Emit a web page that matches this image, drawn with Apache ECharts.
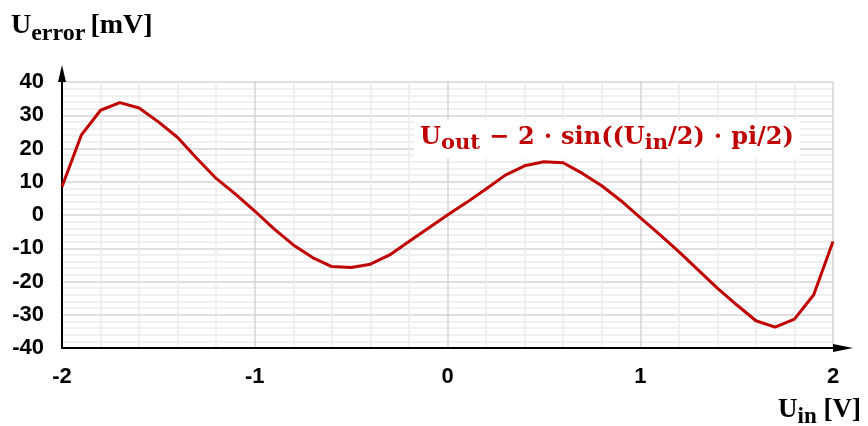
<!DOCTYPE html>
<html>
<head>
<meta charset="utf-8">
<script src="https://cdn.jsdelivr.net/npm/echarts@6/dist/echarts.min.js"></script>
<style>
  html, body { margin: 0; padding: 0; background: #fff; }
  #chart { width: 868px; height: 426px; }
</style>
</head>
<body>
<div id="chart"></div>
<script>
// Input voltage sweep (V)
const uIn = [
  -2.0, -1.9, -1.8, -1.7, -1.6, -1.5, -1.4, -1.3, -1.2, -1.1,
  -1.0, -0.9, -0.8, -0.7, -0.6, -0.5, -0.4, -0.3, -0.2, -0.1,
   0.0,  0.1,  0.2,  0.3,  0.4,  0.5,  0.6,  0.7,  0.8,  0.9,
   1.0,  1.1,  1.2,  1.3,  1.4,  1.5,  1.6,  1.7,  1.8,  1.9, 2.0
];
// Error of the output against the ideal sine transfer (mV)
const uError = [
   8.5, 24.0, 31.5, 33.8, 32.2, 28.0, 23.3, 17.0, 11.0,  6.3,
   1.2, -4.2, -9.0, -12.8, -15.5, -15.8, -14.8, -12.0, -8.0, -4.0,
   0.0,  3.8,  7.8, 12.0, 14.8, 16.0, 15.7, 12.5,  8.8,  4.3,
  -0.8, -5.8, -11.0, -16.5, -22.0, -27.0, -31.8, -33.7, -31.3, -24.0, -8.0
];
// Axis tick labels
const xTicks = [-2, -1, 0, 1, 2];
const yTicks = [-40, -30, -20, -10, 0, 10, 20, 30, 40];

const RED = '#c00000';
const serif = '"Liberation Serif", "Times New Roman", serif';
const wideSerif = '"DejaVu Serif", serif';
const sans = '"Liberation Sans", Arial, sans-serif';

const chart = echarts.init(document.getElementById('chart'));

function axisCommon(ticks, labelMargin, arrowSize, arrowOffset) {
  return {
    type: 'value',
    min: ticks[0],
    max: ticks[ticks.length - 1],
    interval: ticks[1] - ticks[0],
    axisLine: {
      show: true,
      onZero: false,
      lineStyle: { color: '#000', width: 2 },
      symbol: ['none', 'triangle'],
      symbolSize: arrowSize,
      symbolOffset: [0, arrowOffset]
    },
    axisTick: { show: false },
    axisLabel: {
      fontSize: 22,
      fontWeight: 'bold',
      fontFamily: sans,
      color: '#000',
      margin: labelMargin
    },
    splitLine: { show: true, lineStyle: { color: '#d4d4d4', width: 1.5 } },
    minorTick: { show: false, splitNumber: 5 },
    minorSplitLine: { show: true, lineStyle: { color: '#ececec', width: 1.5 } }
  };
}

// Main text + lowered subscript in one rich label
function richStyle(family, color, size, subSize, subDrop, opPad) {
  return {
    rich: {
      m: { fontFamily: family, fontWeight: 'bold', fontSize: size, lineHeight: 34, color: color },
      s: { fontFamily: family, fontWeight: 'bold', fontSize: subSize, lineHeight: subSize, padding: [subDrop, 0, 0, 0], color: color },
      op: { fontFamily: family, fontWeight: 'bold', fontSize: size, lineHeight: 34, color: color, padding: [0, opPad, 0, opPad] }
    }
  };
}

chart.setOption({
  backgroundColor: '#fff',
  animation: false,
  title: [
    {
      left: 11, top: 9, padding: 0,
      text: '{m|U}{s|error}{op|[mV]}',
      textStyle: richStyle(serif, '#000', 28, 24, 15, 5)
    },
    {
      left: 778, top: 393, padding: 0,
      text: '{m|U}{s|in}{m| [V]}',
      textStyle: richStyle(serif, '#000', 27, 23, 15, 0)
    },
    {
      left: 414, top: 119, padding: [2, 6, 4, 6],
      backgroundColor: '#fff',
      text: '{m|U}{s|out}{op|−}{m|2}{op|·}{m|sin((U}{s|in}{m|/2)}{op|·}{m|pi/2)}',
      textStyle: richStyle(wideSerif, RED, 24, 21, 12, 9)
    }
  ],
  grid: { left: 62, right: 35, top: 82, bottom: 78, containLabel: false },
  xAxis: axisCommon(xTicks, 18, [8, 20], 10),
  yAxis: axisCommon(yTicks, 18, [8, 17], 8.5),
  series: [
    {
      type: 'line',
      data: uIn.map((x, i) => [x, uError[i]]),
      showSymbol: false,
      smooth: false,
      lineStyle: { color: RED, width: 3 },
      z: 3
    }
  ]
});
</script>
</body>
</html>
